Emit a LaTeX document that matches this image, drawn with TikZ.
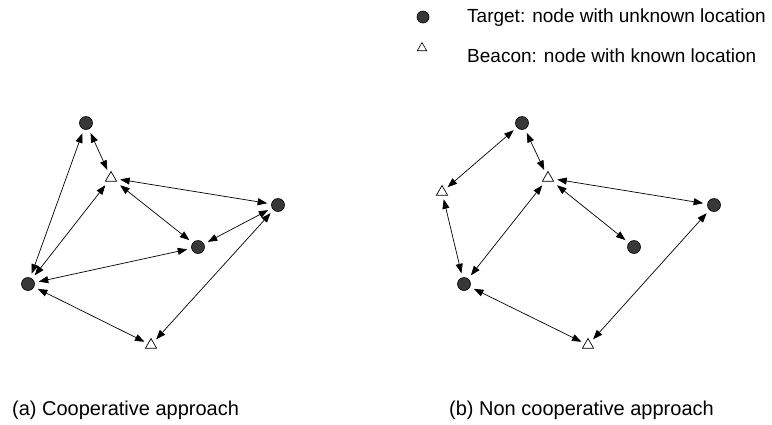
\documentclass[tikz,border=0pt]{standalone}
\usepackage{fontspec}
\setmainfont{Liberation Sans}
\usetikzlibrary{%
  arrows.meta,%
  shapes.geometric,% wg. triangle
  positioning%
}

\begin{document}
\begin{tikzpicture}[
  x=1pt, y=-1pt,
  font=\fontsize{19}{23}\selectfont,
  target/.style={circle, draw=black, fill=black!78, line width=0.6pt,
    minimum size=13pt, inner sep=0pt, outer sep=4.5pt},
  beacon/.style={regular polygon, regular polygon sides=3, draw=black,
    fill=white, line width=0.7pt, minimum size=13pt, inner sep=0pt, outer sep=4pt},
  link/.style={{Triangle[length=9.5pt,width=7pt]}-{Triangle[length=9.5pt,width=7pt]},
    line width=0.7pt},
  caption/.style={anchor=west, inner sep=0pt, font=\fontsize{20}{24}\selectfont},
]
\useasboundingbox (0,0) rectangle (772,424);

% legend
\node[target, minimum size=12pt] (legt) at (423,17) {};
\node[beacon, minimum size=11pt, line width=0.6pt] (legb) at (422,48) {};
\node[anchor=west, inner sep=0pt] (legtt) at (467,18) {Target: node with unknown location};
\node[anchor=west, inner sep=0pt] (legbt) at (467,56) {Beacon: node with known location};

% (a) cooperative
\node[target] (lt1) at (86,123) {};
\node[beacon] (lb1) at (111,178) {};
\node[target] (lt2) at (278,205) {};
\node[target] (lt3) at (198,247) {};
\node[target] (lt4) at (28,284) {};
\node[beacon] (lb2) at (151,345) {};

\foreach \a/\b in {lt1/lt4, lt1/lb1, lb1/lt2, lb1/lt3, lb1/lt4,
                   lt3/lt2, lt3/lt4, lt4/lb2, lb2/lt2} {
  \draw[link] (\a) -- (\b);
}

% (b) non cooperative
\node[target] (rt1) at (522,123) {};
\node[beacon] (rb0) at (442,192) {};
\node[beacon] (rb1) at (548,178) {};
\node[target] (rt2) at (714,205) {};
\node[target] (rt3) at (634,247) {};
\node[target] (rt4) at (464,284) {};
\node[beacon] (rb2) at (588,345) {};

\foreach \a/\b in {rt1/rb0, rt1/rb1, rb1/rt2, rb1/rt3, rb1/rt4,
                   rb0/rt4, rt4/rb2, rb2/rt2} {
  \draw[link] (\a) -- (\b);
}

\node[caption] (capa) at (12,410) {(a) Cooperative approach};
\node[caption] (capb) at (449,410) {(b) Non cooperative approach};

\end{tikzpicture}
\end{document}
